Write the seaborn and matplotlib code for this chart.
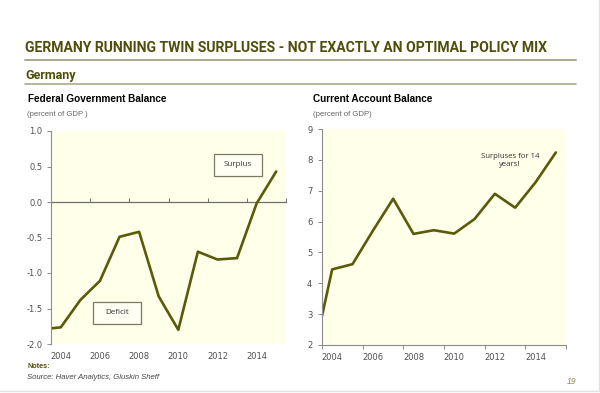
import matplotlib
matplotlib.use("Agg")
import matplotlib.pyplot as plt
from matplotlib.patches import Rectangle
from matplotlib.lines import Line2D
import seaborn as sns
import pandas as pd

# ---- data ----
fed_years = [2003.5, 2004, 2005, 2006, 2007, 2008, 2009, 2010, 2011, 2012, 2013, 2014, 2015]
fed_balance = [-1.78, -1.765, -1.38, -1.11, -0.49, -0.42, -1.33, -1.80, -0.70, -0.81, -0.79, -0.02, 0.43]
ca_years = [2003.5, 2004, 2005, 2006, 2007, 2008, 2009, 2010, 2011, 2012, 2013, 2014, 2015]
ca_balance = [2.94, 4.45, 4.62, 5.70, 6.74, 5.60, 5.72, 5.61, 6.08, 6.90, 6.45, 7.27, 8.24]
year_labels = [2004, 2006, 2008, 2010, 2012, 2014]
tick_marks = [2003.5, 2005.5, 2007.5, 2009.5, 2011.5, 2013.5, 2015.5]
fed_yticks = [-2.0, -1.5, -1.0, -0.5, 0.0, 0.5, 1.0]
ca_yticks = [2, 3, 4, 5, 6, 7, 8, 9]

sns.set_style("white")
plt.rcParams['font.family'] = ['DejaVu Sans']
plt.rcParams['axes.unicode_minus'] = False

W, H = 600, 393
fig = plt.figure(figsize=(6.0, 3.93), dpi=100)
fig.patch.set_facecolor("white")

def fx(x):
    return x / W

def fy(y):
    return 1 - y / H

OLIVE = "#4f4f0c"
LINE = "#5a5a0a"
RULE = "#a9a98e"
BG = "#FFFFEA"
TICK = "#505050"
AX = "#8c8c8c"

renderer = fig.canvas.get_renderer()

def fit_width(t, target_px):
    w = t.get_window_extent(renderer=renderer).width
    t.set_fontsize(t.get_fontsize() * target_px / w)

# header
title = fig.text(fx(25), fy(48), "GERMANY RUNNING TWIN SURPLUSES - NOT EXACTLY AN OPTIMAL POLICY MIX",
                 family=["Roboto", "DejaVu Sans"], weight="bold", fontsize=10,
                 color=OLIVE, va="center", ha="left")
fit_width(title, 523)
fig.add_artist(Line2D([fx(25), fx(576)], [fy(59.5), fy(59.5)], color=RULE, lw=1.4))
germ = fig.text(fx(25), fy(75.5), "Germany", family=["Roboto", "DejaVu Sans"],
                weight="bold", fontsize=8.5, color=OLIVE, va="center", ha="left")
fit_width(germ, 50)
fig.add_artist(Line2D([fx(25), fx(576)], [fy(83.5), fy(83.5)], color=RULE, lw=1.2))

fig.text(fx(28), fy(99), "Federal Government Balance", family=["Liberation Sans", "DejaVu Sans"],
         weight="bold", fontsize=7.2, color="black", va="center", ha="left")
fig.text(fx(27), fy(115), "(percent of GDP )", family=["Liberation Sans", "DejaVu Sans"],
         fontsize=5.6, color="#666666", va="center", ha="left")
fig.text(fx(313), fy(99), "Current Account Balance", family=["Liberation Sans", "DejaVu Sans"],
         weight="bold", fontsize=7.2, color="black", va="center", ha="left")
fig.text(fx(313), fy(115), "(percent of GDP)", family=["Liberation Sans", "DejaVu Sans"],
         fontsize=5.6, color="#666666", va="center", ha="left")

fig.text(fx(27), fy(367), "Notes:", family=["Liberation Sans", "DejaVu Sans"], weight="bold",
         fontsize=5.2, color=OLIVE, va="center", ha="left")
fig.text(fx(27), fy(377.5), "Source: Haver Analytics, Gluskin Sheff", family=["Liberation Sans", "DejaVu Sans"],
         style="italic", fontsize=5.6, color="#444444", va="center", ha="left")
fig.text(fx(572), fy(381.5), "19", family=["Liberation Sans", "DejaVu Sans"], style="italic",
         fontsize=6.2, color="#8a8a5a", va="center", ha="center")

# faint frame at right/bottom
fig.add_artist(Line2D([fx(598.5), fx(598.5)], [fy(0), fy(391)], color="#e3e3e3", lw=1.0))
fig.add_artist(Line2D([fx(0), fx(598.5)], [fy(391), fy(391)], color="#e3e3e3", lw=1.0))

# ---- left panel ----
axL = fig.add_axes([fx(51), fy(344), (286 - 51) / W, (344 - 131) / H])
dfL = pd.DataFrame({"year": fed_years, "value": fed_balance})
sns.lineplot(data=dfL, x="year", y="value", ax=axL, color=LINE, lw=1.9)
axL.set_facecolor(BG)
axL.set_xlim(2003.5, 2015.5)
axL.set_ylim(-2.0, 1.0)
axL.set_xlabel("")
axL.set_ylabel("")
for s in ["top", "right", "bottom"]:
    axL.spines[s].set_visible(False)
axL.spines["left"].set_color(AX)
axL.spines["left"].set_linewidth(0.8)
axL.set_yticks(fed_yticks)
axL.set_yticklabels([f"{v:.1f}" for v in fed_yticks])
axL.set_xticks(year_labels)
axL.set_xticklabels([str(y) for y in year_labels])
axL.tick_params(axis="x", length=0, pad=6, labelsize=6.0, labelcolor=TICK)
axL.tick_params(axis="y", left=True, length=3, width=0.7, color=AX, pad=3, labelsize=6.0, labelcolor=TICK)
sec = axL.secondary_xaxis(2.0 / 3.0)
sec.set_xticks(tick_marks)
sec.set_xticklabels([])
sec.tick_params(axis="x", direction="out", length=3, width=0.7, color="#6e6e6e")
sec.spines["bottom"].set_color("#6e6e6e")
sec.spines["bottom"].set_linewidth(0.9)
sec.spines["top"].set_color("#6e6e6e")
sec.spines["top"].set_linewidth(0.9)

# ---- right panel ----
axR = fig.add_axes([fx(322), fy(345), (566 - 322) / W, (345 - 129) / H])
dfR = pd.DataFrame({"year": ca_years, "value": ca_balance})
sns.lineplot(data=dfR, x="year", y="value", ax=axR, color=LINE, lw=1.9)
axR.set_facecolor(BG)
axR.set_xlim(2003.5, 2015.5)
axR.set_ylim(2, 9)
axR.set_xlabel("")
axR.set_ylabel("")
for s in ["top", "right"]:
    axR.spines[s].set_visible(False)
for s in ["left", "bottom"]:
    axR.spines[s].set_color(AX)
    axR.spines[s].set_linewidth(0.8)
axR.set_yticks(ca_yticks)
axR.set_yticklabels([str(v) for v in ca_yticks])
axR.set_xticks(year_labels)
axR.set_xticklabels([str(y) for y in year_labels])
axR.set_xticks(tick_marks, minor=True)
axR.tick_params(axis="x", which="major", length=0, pad=6, labelsize=6.0, labelcolor=TICK)
axR.tick_params(axis="x", which="minor", bottom=True, direction="out", length=3, width=0.7, color=AX)
axR.tick_params(axis="y", left=True, length=3, width=0.7, color=AX, pad=4, labelsize=6.0, labelcolor=TICK)

# ---- annotation boxes ----
def box(x0, y0, x1, y1, label):
    fig.add_artist(Rectangle((fx(x0), fy(y1)), (x1 - x0) / W, (y1 - y0) / H,
                             transform=fig.transFigure, facecolor="#FFFFF4",
                             edgecolor="#7a7a62", lw=0.9, zorder=5))
    fig.text(fx((x0 + x1) / 2), fy((y0 + y1) / 2), label, family=["Open Sans", "DejaVu Sans"],
             fontsize=5.8, color="#333333", ha="center", va="center", zorder=6)

box(214, 154, 262, 176, "Surplus")
box(93, 302, 141, 324, "Deficit")

fig.text(fx(510), fy(160.5), "Surpluses for 14\nyears!", family=["Open Sans", "DejaVu Sans"],
         fontsize=5.6, color="#333333", ha="center", va="center", linespacing=1.3)

fig.savefig("out.png", dpi=100, facecolor="white")
